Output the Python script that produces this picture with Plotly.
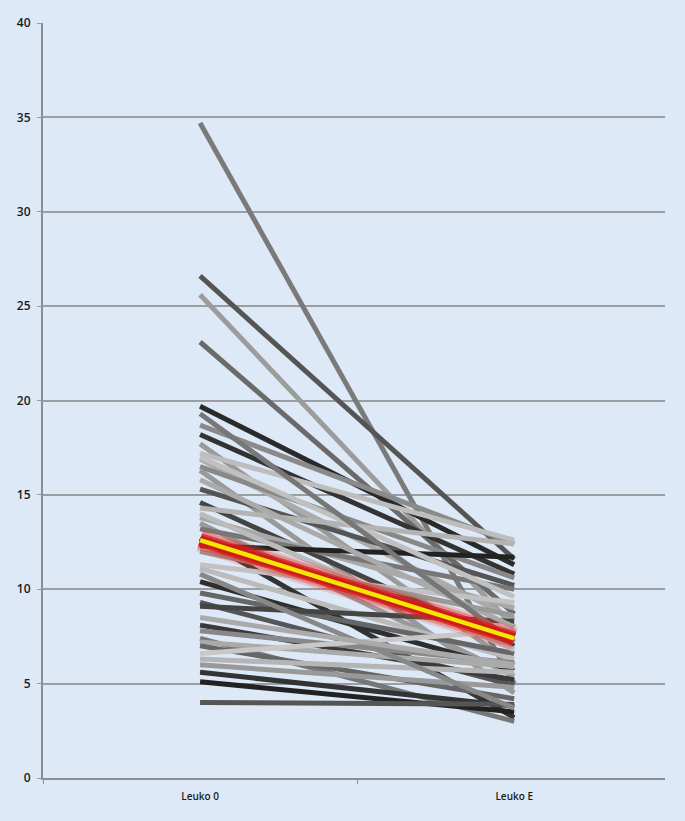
import plotly.graph_objects as go

# ---- data ----
categories = ["Leuko 0", "Leuko E"]

leuko_0 = [34.7, 26.6, 25.6, 23.1, 19.7, 18.7, 18.2, 17.7, 17.2, 16.9,
           16.5, 16.3, 15.3, 14.6, 14.3, 13.8, 13.5, 13.2, 12.7, 12.3,
           11.3, 11.1, 10.4, 9.8, 9.3, 9.1, 8.1, 7.8, 7.4, 7.2,
           7.0, 6.6, 6.3, 6.0, 5.6, 5.1, 4.0, 15.8, 14.0, 12.0,
           10.8, 8.5, 17.0, 19.3]
leuko_e = [5.0, 11.6, 8.0, 8.7, 11.3, 12.4, 10.8, 6.0, 12.6, 8.4,
           10.6, 4.5, 10.2, 7.0, 12.4, 9.0, 5.4, 10.0, 3.2, 11.7,
           9.3, 6.3, 5.7, 6.6, 4.9, 8.3, 5.2, 6.1, 3.0, 5.9,
           4.2, 7.8, 5.6, 4.8, 3.8, 3.5, 3.9, 8.0, 6.8, 8.6,
           3.7, 6.0, 9.6, 7.2]

mean_values = [12.6, 7.4]

y_ticks = [0, 5, 10, 15, 20, 25, 30, 35, 40]

# ---- styles ----
line_grays = ["#7a7a7a", "#555555", "#9c9c9c", "#6a6a6a", "#2a2a2a", "#8a8a8a", "#333333", "#9a9a9a", "#bdbdbd", "#ababab",
              "#888888", "#999999", "#555555", "#444444", "#b3b3b3", "#a8a8a8", "#999999", "#777777", "#333333", "#222222",
              "#c2c2c2", "#bbbbbb", "#2e2e2e", "#666666", "#555555", "#444444", "#3a3a3a", "#888888", "#777777", "#aaaaaa",
              "#666666", "#c8c8c8", "#b5b5b5", "#999999", "#333333", "#222222", "#555555", "#aaaaaa", "#bbbbbb", "#999999",
              "#888888", "#aaaaaa", "#c0c0c0", "#777777"]

fig = go.Figure()

for a, b, c in zip(leuko_0, leuko_e, line_grays):
    fig.add_trace(go.Scatter(x=categories, y=[a, b], mode="lines",
                             line=dict(color=c, width=5), hoverinfo="skip",
                             showlegend=False))

# mean line with red glow
for w, col in [(24, "rgba(230,70,60,0.22)"), (19, "rgba(225,50,40,0.35)"),
               (14, "rgba(215,30,30,0.75)"), (10, "rgba(205,25,25,0.95)")]:
    fig.add_trace(go.Scatter(x=categories, y=mean_values, mode="lines",
                             line=dict(color=col, width=w), hoverinfo="skip",
                             showlegend=False))
fig.add_trace(go.Scatter(x=categories, y=mean_values, mode="lines",
                         line=dict(color="#f5e800", width=4.5), hoverinfo="skip",
                         showlegend=False))

bg = "#dde9f7"
fig.update_layout(
    width=685, height=821,
    margin=dict(l=43, r=20, t=23, b=43),
    paper_bgcolor=bg, plot_bgcolor=bg,
    showlegend=False,
    font=dict(family="Open Sans", color="#1a1a1a"),
)
fig.update_xaxes(
    type="category", range=[-0.5, 1.48],
    showgrid=False, showline=True, linecolor="#8a8e93", linewidth=2,
    ticks="outside", tickson="boundaries", ticklen=4, tickcolor="#8a8e93",
    tickfont=dict(size=10, weight=600), zeroline=False, ticklabelstandoff=8,
)
fig.update_yaxes(
    range=[0, 40], tickvals=y_ticks,
    showgrid=True, gridcolor="#9a9ea3", gridwidth=2,
    showline=True, linecolor="#8a8e93", linewidth=2,
    ticks="outside", ticklen=4, tickcolor="#9a9ea3",
    tickfont=dict(size=12, weight=600), zeroline=False, ticklabelstandoff=4,
)

fig.write_html("out.html", config={"displayModeBar": False},
               post_script="document.body.style.margin='0';document.body.style.overflow='hidden';")
